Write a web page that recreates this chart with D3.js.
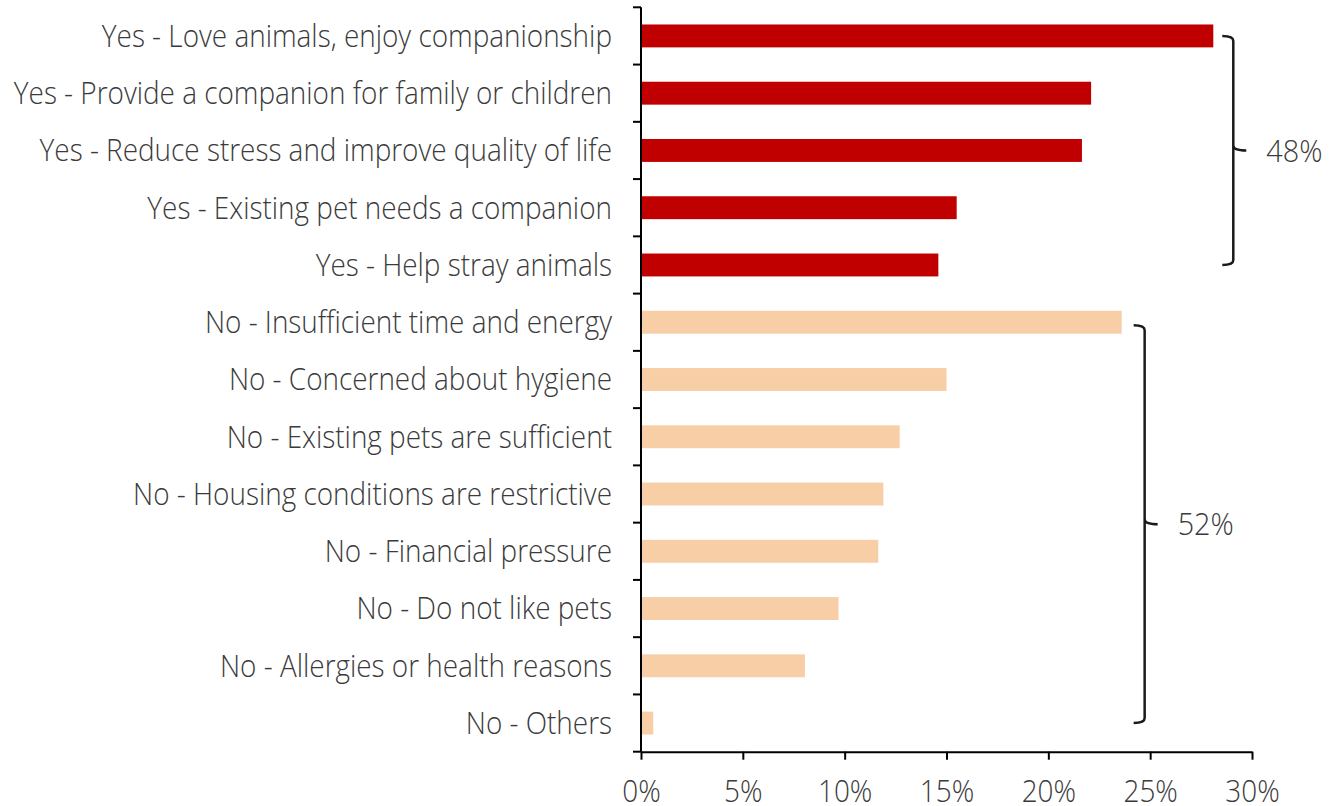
<!DOCTYPE html>
<html>
<head>
<meta charset="utf-8">
<script src="https://cdn.jsdelivr.net/npm/d3@7"></script>
<style>
  html, body { margin: 0; padding: 0; background: #fff; }
  svg { display: block; }
  text { font-family: "Open Sans", "DejaVu Sans", sans-serif; font-weight: 300; fill: #3b3b3b; }
</style>
</head>
<body>
<svg id="chart" width="1329" height="806"></svg>
<script>
// Reasons for (not) planning to get another pet, share of respondents
const categories = [
  "Yes - Love animals, enjoy companionship",
  "Yes - Provide a companion for family or children",
  "Yes - Reduce stress and improve quality of life",
  "Yes - Existing pet needs a companion",
  "Yes - Help stray animals",
  "No - Insufficient time and energy",
  "No - Concerned about hygiene",
  "No - Existing pets are sufficient",
  "No - Housing conditions are restrictive",
  "No - Financial pressure",
  "No - Do not like pets",
  "No - Allergies or health reasons",
  "No - Others"
];
const values = [0.281, 0.221, 0.2165, 0.155, 0.146, 0.236, 0.150, 0.127, 0.119, 0.1165, 0.097, 0.0805, 0.006];
const groupOf = ["Yes", "Yes", "Yes", "Yes", "Yes", "No", "No", "No", "No", "No", "No", "No", "No"];
const groupNames = ["Yes", "No"];
const groupShares = ["48%", "52%"];
const xTicks = [0, 0.05, 0.10, 0.15, 0.20, 0.25, 0.30];

const colors = { Yes: "#C00000", No: "#F8CEA6" };
const sx = 0.9;           // horizontal squeeze for the light typeface
const fontSize = 31;

const svg = d3.select("#chart");
const plotLeft = 641, plotRight = 1252, plotTop = 7.3, plotBottom = 751.7;

const x = d3.scaleLinear().domain([0, 0.30]).range([plotLeft, plotRight]);
const y = d3.scaleBand().domain(categories).range([plotTop, plotBottom])
  .paddingInner(0.6).paddingOuter(0.3);

// bars
svg.append("g").selectAll("rect")
  .data(categories)
  .join("rect")
  .attr("x", x(0))
  .attr("y", d => y(d))
  .attr("width", (d, i) => x(values[i]) - x(0))
  .attr("height", y.bandwidth())
  .attr("fill", (d, i) => colors[groupOf[i]]);

// category labels
svg.append("g").selectAll("text")
  .data(categories)
  .join("text")
  .attr("transform", d => `translate(${plotLeft - 29},${y(d) + y.bandwidth() / 2}) scale(${sx},1)`)
  .attr("text-anchor", "end")
  .attr("dy", "0.35em")
  .style("font-size", fontSize + "px")
  .text(d => d);

// x axis
const xAxis = svg.append("g")
  .attr("transform", `translate(0,${plotBottom})`)
  .call(d3.axisBottom(x).tickValues(xTicks).tickFormat(d3.format(".0%"))
    .tickSize(8).tickSizeOuter(0).tickPadding(20));
xAxis.attr("font-family", null).attr("font-size", null);
xAxis.select(".domain").attr("stroke", "#000").attr("stroke-width", 2);
xAxis.selectAll(".tick line").attr("stroke", "#000").attr("stroke-width", 2);
xAxis.selectAll(".tick text")
  .attr("transform", `scale(${sx},1)`)
  .style("font-size", fontSize + "px")
  .attr("fill", "#3b3b3b");

// y axis: line with ticks at category boundaries
const step = y.step();
const boundaries = d3.range(categories.length + 1).map(i => plotTop + i * step);
const yAxis = svg.append("g");
yAxis.append("line")
  .attr("x1", plotLeft).attr("x2", plotLeft)
  .attr("y1", plotTop).attr("y2", plotBottom)
  .attr("stroke", "#000").attr("stroke-width", 2);
yAxis.selectAll("line.tick")
  .data(boundaries)
  .join("line")
  .attr("class", "tick")
  .attr("x1", plotLeft - 8).attr("x2", plotLeft)
  .attr("y1", d => d).attr("y2", d => d)
  .attr("stroke", "#000").attr("stroke-width", 2);

// group brackets
function bracketPath(xb, y0, y1) {
  const ym = (y0 + y1) / 2;
  const a = 11, r = 5, n = 13;
  return `M${xb - a},${y0} Q${xb},${y0} ${xb},${y0 + r}` +
    ` L${xb},${ym - r} Q${xb},${ym} ${xb + n},${ym}` +
    ` M${xb},${ym - r} Q${xb},${ym} ${xb},${ym + r}` +
    ` L${xb},${y1 - r} Q${xb},${y1} ${xb - a},${y1}`;
}

groupNames.forEach((g, gi) => {
  const idx = categories.map((c, i) => i).filter(i => groupOf[i] === g);
  const maxVal = d3.max(idx, i => values[i]);
  const xb = x(maxVal) + (g === "Yes" ? 20 : 23);
  const y0 = y(categories[idx[0]]) + y.bandwidth() / 2 + (g === "Yes" ? 0 : 3);
  const y1 = y(categories[idx[idx.length - 1]]) + y.bandwidth() / 2;
  svg.append("path")
    .attr("d", bracketPath(xb, y0, y1))
    .attr("fill", "none")
    .attr("stroke", "#1a1a1a")
    .attr("stroke-width", 2.5);
  svg.append("text")
    .attr("transform", `translate(${xb + 33},${(y0 + y1) / 2}) scale(${sx},1)`)
    .attr("dy", "0.35em")
    .style("font-size", "32px")
    .text(groupShares[gi]);
});
</script>
</body>
</html>
